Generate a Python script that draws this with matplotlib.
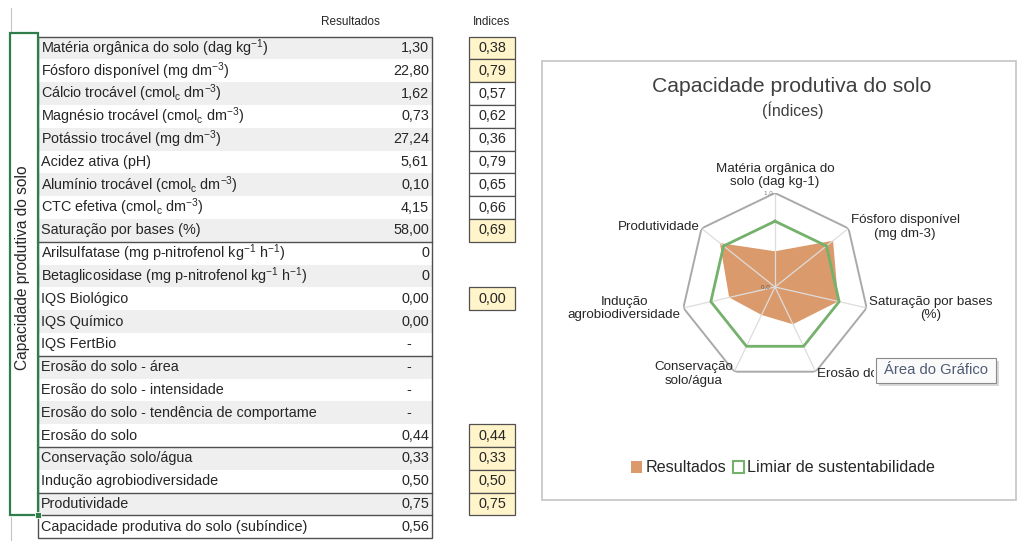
import numpy as np
import matplotlib
matplotlib.use("Agg")
import matplotlib.pyplot as plt
from matplotlib.patches import Rectangle, Patch

plt.rcParams['font.family'] = ['Liberation Sans', 'DejaVu Sans']
plt.rcParams['mathtext.fontset'] = 'custom'
plt.rcParams['mathtext.rm'] = 'Liberation Sans'
plt.rcParams['mathtext.it'] = 'Liberation Sans'
plt.rcParams['mathtext.default'] = 'regular'

# ---- dados da planilha ----
indicadores = [
    "Matéria orgânica do solo (dag kg$^{-1}$)",
    "Fósforo disponível (mg dm$^{-3}$)",
    "Cálcio trocável (cmol$_c$ dm$^{-3}$)",
    "Magnésio trocável (cmol$_c$ dm$^{-3}$)",
    "Potássio trocável (mg dm$^{-3}$)",
    "Acidez ativa (pH)",
    "Alumínio trocável (cmol$_c$ dm$^{-3}$)",
    "CTC efetiva (cmol$_c$ dm$^{-3}$)",
    "Saturação por bases (%)",
    "Arilsulfatase (mg p-nitrofenol kg$^{-1}$ h$^{-1}$)",
    "Betaglicosidase (mg p-nitrofenol kg$^{-1}$ h$^{-1}$)",
    "IQS Biológico",
    "IQS Químico",
    "IQS FertBio",
    "Erosão do solo - área",
    "Erosão do solo - intensidade",
    "Erosão do solo - tendência de comportamento",
    "Erosão do solo",
    "Conservação solo/água",
    "Indução agrobiodiversidade",
    "Produtividade",
    "Capacidade produtiva do solo (subíndice)",
]
resultados = ["1,30", "22,80", "1,62", "0,73", "27,24", "5,61", "0,10", "4,15", "58,00",
              "0", "0", "0,00", "0,00", "-", "-", "-", "-", "0,44", "0,33", "0,50",
              "0,75", "0,56"]
indices_linhas = [0, 1, 2, 3, 4, 5, 6, 7, 8, 11, 17, 18, 19, 20]
indices_valores = [0.38, 0.79, 0.57, 0.62, 0.36, 0.79, 0.65, 0.66, 0.69, 0.00,
                   0.44, 0.33, 0.50, 0.75]
indices_destaque = [0, 1, 8, 11, 17, 18, 19, 20]
separadores = [9, 14, 18, 20, 21]

# ---- dados do radar ----
categorias = ["Matéria orgânica do\nsolo (dag kg-1)", "Fósforo disponível\n(mg dm-3)",
              "Saturação por bases\n(%)", "Erosão do solo", "Conservação\nsolo/água",
              "Indução\nagrobiodiversidade", "Produtividade"]
radar_resultados = [0.38, 0.79, 0.69, 0.44, 0.33, 0.50, 0.75]
limiar = [0.70, 0.70, 0.70, 0.70, 0.70, 0.70, 0.70]

W, H = 1019, 541
laranja = "#DA9A6B"
verde = "#74B16A"
amarelo = "#FFF4CA"
fs = 10.4

fig = plt.figure(figsize=(W / 100, H / 100), dpi=100)
ax0 = fig.add_axes([0, 0, 1, 1])
ax0.set_xlim(0, W)
ax0.set_ylim(H, 0)
ax0.axis("off")

# ---- tabela ----
y0, dy = 48, 22.8
xl, xr = 38, 432
top = y0 - dy / 2
bot = y0 + dy * (len(indicadores) - 1) + dy / 2
for i, (lab, res) in enumerate(zip(indicadores, resultados)):
    yc = y0 + i * dy
    if i % 2 == 0:
        ax0.add_patch(Rectangle((xl, yc - dy / 2), xr - xl, dy, facecolor="#efefef",
                                edgecolor="none", zorder=1))
    t = ax0.text(xl + 3, yc, lab, fontsize=fs, va="center", ha="left", color="#262626", zorder=3)
    if i == 16:
        clip = Rectangle((xl, yc - dy / 2), 279, dy, transform=ax0.transData)
        t.set_clip_on(True)
        t.set_clip_path(clip)
    if res == "-":
        ax0.text(411, yc, res, fontsize=fs, va="center", ha="right", color="#262626", zorder=3)
    else:
        ax0.text(xr - 3, yc, res, fontsize=fs, va="center", ha="right", color="#262626", zorder=3)

for s in separadores:
    ax0.plot([xl, xr], [top + s * dy] * 2, color="#505050", lw=1.0, zorder=4)
ax0.add_patch(Rectangle((xl, top), xr - xl, bot - top, facecolor="none",
                        edgecolor="#505050", lw=1.0, zorder=4))

# caixas dos índices
bx0, bx1 = 469, 515
for r, v in zip(indices_linhas, indices_valores):
    yc = y0 + r * dy
    fc = amarelo if r in indices_destaque else "white"
    ax0.add_patch(Rectangle((bx0, yc - dy / 2), bx1 - bx0, dy, facecolor=fc,
                            edgecolor="#505050", lw=0.9, zorder=2))
    ax0.text((bx0 + bx1) / 2, yc, f"{v:.2f}".replace(".", ","), fontsize=fs,
             ha="center", va="center", color="#262626", zorder=3)

ax0.text(350, 22, "Resultados", fontsize=8.5, ha="center", va="center", color="#262626")
ax0.text((bx0 + bx1) / 2, 22, "Indices", fontsize=8.5, ha="center", va="center", color="#262626")

# seleção verde e linhas de grade
ax0.plot([11, 11], [8, 33], color="#c4c4c4", lw=0.8)
ax0.plot([11, 11], [517, H], color="#c4c4c4", lw=0.8)
sel_bot = top + 20 * dy + dy
ax0.add_patch(Rectangle((10, 33), xl - 10, sel_bot - 33, facecolor="none",
                        edgecolor="#2E7D4A", lw=1.6, zorder=5))
ax0.add_patch(Rectangle((xl - 3, sel_bot - 3), 6, 6, facecolor="#2E7D4A",
                        edgecolor="white", lw=0.6, zorder=6))
ax0.text(23, 268, "Capacidade produtiva do solo", rotation=90,
         fontsize=11.2, ha="center", va="center", color="#262626")

# ---- área do gráfico ----
ax0.add_patch(Rectangle((542, 61), 474, 439, facecolor="white", edgecolor="#c8c8c8", lw=1.3))
ax0.text(792, 87, "Capacidade produtiva do solo", fontsize=15.2, ha="center", va="center",
         color="#404040")
ax0.text(793, 110, "(Índices)", fontsize=11.5, ha="center", va="center", color="#404040")

cx, cy, rad = 775, 287, 94
ax = fig.add_axes([(cx - rad) / W, (H - cy - rad) / H, 2 * rad / W, 2 * rad / H],
                  projection="polar")
ax.set_facecolor("none")
ax.set_theta_offset(np.pi / 2)
ax.set_theta_direction(-1)
ax.set_ylim(0, 1)
ax.grid(False)
ax.spines["polar"].set_visible(False)
ax.set_xticks([])
ax.set_yticks([])

ang = np.arange(len(categorias)) * 2 * np.pi / len(categorias)
ang_c = np.append(ang, ang[0])
ax.fill(ang_c, np.append(radar_resultados, radar_resultados[0]), color=laranja, lw=0, zorder=2)
for a in ang:
    ax.plot([a, a], [0, 1], color="#dddddd", lw=0.9, zorder=3)
ax.plot(ang_c, np.ones(len(ang_c)), color="#a9a9a9", lw=1.4, zorder=3)
ax.plot(ang_c, np.append(limiar, limiar[0]), color=verde, lw=2.0, zorder=4)
ax.text(0, 1, "1,0 ", fontsize=4.5, ha="right", va="center", color="#808080", zorder=5)
ax.text(0, 0, "0,0   ", fontsize=4.5, ha="right", va="center", color="#606060", zorder=5)

# dica de ferramenta do Excel (cobre parte do rótulo "Erosão do solo")
tip_x, tip_y, tip_w, tip_h = 876, 358, 120, 25

for a, lab in zip(ang, categorias):
    s = np.sin(a)
    if abs(s) < 0.1:
        ha, va, r = "center", "bottom", 1.05
    elif s > 0:
        ha, va, r = "left", "center", 1.03
    else:
        ha, va, r = "right", "center", 1.03
    t = ax.text(a, r, lab, fontsize=9.6, ha=ha, va=va, multialignment="center",
                color="#262626", clip_on=False, zorder=6)
    if lab == "Erosão do solo":
        t.set_clip_on(True)
        t.set_clip_path(Rectangle((542, 61), tip_x - 544, 439, transform=ax0.transData))

fig.legend(handles=[Patch(facecolor=laranja, edgecolor="none", label="Resultados"),
                    Patch(facecolor="white", edgecolor=verde, lw=1.5,
                          label="Limiar de sustentabilidade")],
           loc="center", bbox_to_anchor=(783 / W, 1 - 468 / H), ncol=2, frameon=False,
           fontsize=11.6, handlelength=0.7, handleheight=0.7, handletextpad=0.2,
           columnspacing=0.4, labelcolor="#262626")

ax2 = fig.add_axes([0, 0, 1, 1], zorder=10)
ax2.set_xlim(0, W)
ax2.set_ylim(H, 0)
ax2.axis("off")
ax2.add_patch(Rectangle((tip_x + 3, tip_y + 3), tip_w, tip_h, facecolor="#d8d8d8", edgecolor="none"))
ax2.add_patch(Rectangle((tip_x, tip_y), tip_w, tip_h, facecolor="#fafafa", edgecolor="#8a8a8a", lw=0.8))
ax2.text(tip_x + tip_w / 2, tip_y + tip_h / 2, "Área do Gráfico", fontsize=10.6,
         ha="center", va="center", color="#4F5B73")

fig.savefig("out.png", dpi=100)
